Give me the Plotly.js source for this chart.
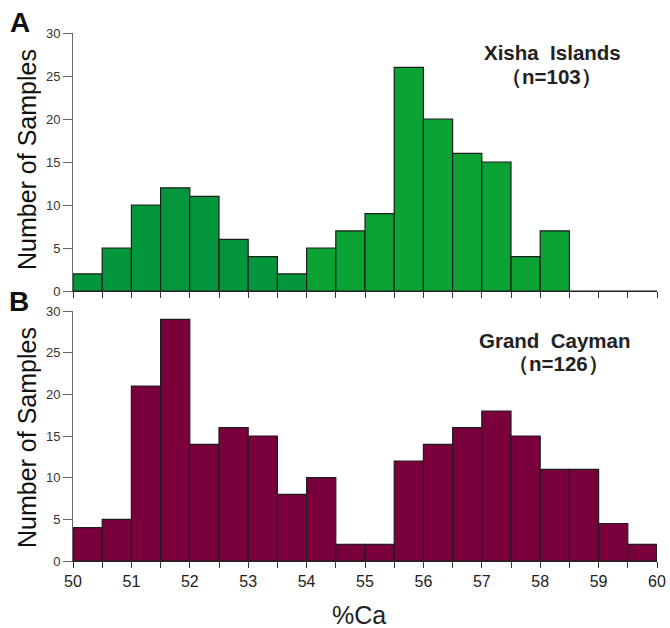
<!DOCTYPE html>
<html>
<head>
<meta charset="utf-8">
<script src="https://cdn.plot.ly/plotly-3.0.1.min.js"></script>
<style>html,body{margin:0;padding:0;background:#fff;}#chart{width:670px;height:628px;}</style>
</head>
<body>
<div id="chart"></div>
<script>
// Bin start values (%Ca), bin width 0.5
const binStarts = [50, 50.5, 51, 51.5, 52, 52.5, 53, 53.5, 54, 54.5, 55, 55.5, 56, 56.5, 57, 57.5, 58, 58.5, 59, 59.5];
// A: Xisha Islands counts
const xishaCounts = [2, 5, 10, 12, 11, 6, 4, 2, 5, 7, 9, 26, 20, 16, 15, 4, 7, 0, 0, 0];
// B: Grand Cayman counts
const caymanCounts = [4, 5, 21, 29, 14, 16, 15, 8, 10, 2, 2, 12, 14, 16, 18, 15, 11, 11, 4.5, 2];
// Tick labels
const xTickVals = [50, 50.5, 51, 51.5, 52, 52.5, 53, 53.5, 54, 54.5, 55, 55.5, 56, 56.5, 57, 57.5, 58, 58.5, 59, 59.5, 60];
const xTickText = ['50', '', '51', '', '52', '', '53', '', '54', '', '55', '', '56', '', '57', '', '58', '', '59', '', '60'];
const yTickVals = [0, 5, 10, 15, 20, 25, 30];

const FONT = 'Liberation Sans, Arial, sans-serif';
const W = 670, H = 628, L = 73, R = 13, T = 33, B = 67;
const pw = W - L - R, ph = H - T - B;
const px = v => (v - L) / pw;
const py = v => (H - B - v) / ph;

const xishaColors = binStarts.map(s => s < 54 ? '#03963d' : '#0aa334');

const traces = [
  {
    type: 'bar', x: binStarts, y: xishaCounts, width: 0.5, offset: 0,
    marker: {color: xishaColors, line: {color: '#1e1e1e', width: 1.2}},
    xaxis: 'x', yaxis: 'y', hoverinfo: 'x+y', showlegend: false
  },
  {
    type: 'bar', x: binStarts, y: caymanCounts, width: 0.5, offset: 0,
    marker: {color: '#7a003c', line: {color: '#1e1e1e', width: 1.2}},
    xaxis: 'x2', yaxis: 'y2', hoverinfo: 'x+y', showlegend: false
  }
];

const yax = (domain, anchor) => ({
  domain: domain, anchor: anchor, range: [0, 30], tickvals: yTickVals,
  showline: true, linecolor: '#666', linewidth: 1, ticks: 'outside', ticklen: 9,
  tickcolor: '#666', tickwidth: 1, showgrid: false, zeroline: false,
  tickfont: {family: FONT, size: 13, color: '#333'}, fixedrange: true
});
const xax = (domain, anchor, showLabels) => ({
  domain: [0, 1], anchor: anchor, range: [50, 60], tickvals: xTickVals, ticktext: xTickText,
  showticklabels: showLabels, showline: true, linecolor: '#222', linewidth: 1,
  ticks: 'outside', ticklen: 6, tickcolor: '#333', tickwidth: 1, showgrid: false, zeroline: false,
  tickfont: {family: FONT, size: 16, color: '#222'}, fixedrange: true
});

const topDom = [py(291), 1];
const botDom = [0, py(311)];

const layout = {
  width: W, height: H,
  margin: {l: L, r: R, t: T, b: B},
  paper_bgcolor: '#fff', plot_bgcolor: 'rgba(0,0,0,0)',
  bargap: 0,
  xaxis: xax([0, 1], 'y', false),
  yaxis: yax(topDom, 'x'),
  xaxis2: xax([0, 1], 'y2', true),
  yaxis2: yax(botDom, 'x2'),
  annotations: [
    {text: 'A', x: px(20), y: py(23), xref: 'paper', yref: 'paper', showarrow: false,
     font: {family: FONT, size: 28, color: '#111', weight: 'bold'}, xanchor: 'center', yanchor: 'middle'},
    {text: 'B', x: px(19), y: py(301), xref: 'paper', yref: 'paper', showarrow: false,
     font: {family: FONT, size: 28, color: '#111', weight: 'bold'}, xanchor: 'center', yanchor: 'middle'},
    {text: 'Number of Samples', x: px(27), y: py(160), xref: 'paper', yref: 'paper', showarrow: false,
     textangle: -90, font: {family: FONT, size: 25, color: '#111'}, xanchor: 'center', yanchor: 'middle'},
    {text: 'Number of Samples', x: px(27), y: py(438), xref: 'paper', yref: 'paper', showarrow: false,
     textangle: -90, font: {family: FONT, size: 25, color: '#111'}, xanchor: 'center', yanchor: 'middle'},
    {text: 'Xisha\u00a0\u00a0Islands', x: px(552), y: py(52), xref: 'paper', yref: 'paper', showarrow: false,
     font: {family: FONT, size: 20.5, color: '#222', weight: 'bold'}, xanchor: 'center', yanchor: 'middle'},
    {text: '（n=103）', x: px(551), y: py(76), xref: 'paper', yref: 'paper', showarrow: false,
     font: {family: FONT, size: 20.5, color: '#222', weight: 'bold'}, xanchor: 'center', yanchor: 'middle'},
    {text: 'Grand\u00a0\u00a0Cayman', x: px(555), y: py(340), xref: 'paper', yref: 'paper', showarrow: false,
     font: {family: FONT, size: 20.5, color: '#222', weight: 'bold'}, xanchor: 'center', yanchor: 'middle'},
    {text: '（n=126）', x: px(558), y: py(363), xref: 'paper', yref: 'paper', showarrow: false,
     font: {family: FONT, size: 20.5, color: '#222', weight: 'bold'}, xanchor: 'center', yanchor: 'middle'},
    {text: '%Ca', x: px(359), y: py(615), xref: 'paper', yref: 'paper', showarrow: false,
     font: {family: FONT, size: 25, color: '#222'}, xanchor: 'center', yanchor: 'middle'}
  ]
};

Plotly.newPlot('chart', traces, layout, {displayModeBar: false, staticPlot: true});
</script>
</body>
</html>
